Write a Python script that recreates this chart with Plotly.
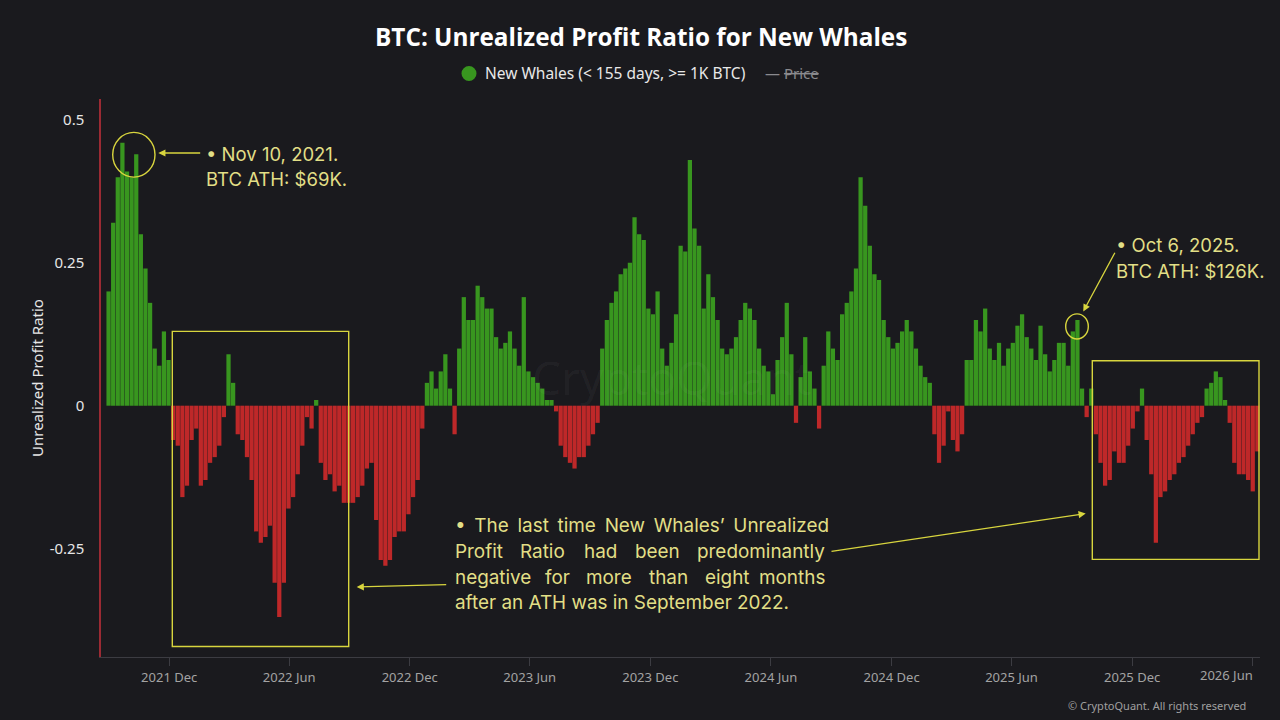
import plotly.graph_objects as go
import pandas as pd

# ---------------- data (weekly readings of the Unrealized Profit Ratio) ----------------
start_date = "2021-08-31"

ratio_2021 = [0.20, 0.32, 0.40, 0.46, 0.41, 0.40, 0.44, 0.30, 0.24, 0.18, 0.10, 0.07,
              0.13, 0.08, -0.06, -0.07, -0.16, -0.14]
ratio_2022 = [-0.06, -0.04, -0.14, -0.13, -0.10, -0.09, -0.07, -0.02, 0.09, 0.04, -0.05, -0.06,
              -0.09, -0.13, -0.22, -0.24, -0.23, -0.21, -0.31, -0.37, -0.31, -0.18, -0.16, -0.12,
              -0.07, -0.02, -0.04, 0.01, -0.10, -0.13, -0.12, -0.15, -0.14, -0.17, -0.17, -0.17,
              -0.16, -0.14, -0.11, -0.10, -0.20, -0.27, -0.28, -0.27, -0.23, -0.22, -0.22, -0.19,
              -0.16, -0.13, -0.04, 0.04]
ratio_2023 = [0.06, 0.03, 0.06, 0.09, 0.03, -0.05, 0.10, 0.19, 0.15, 0.15, 0.21, 0.19,
              0.17, 0.17, 0.12, 0.10, 0.11, 0.13, 0.10, 0.07, 0.19, 0.06, 0.05, 0.04,
              0.03, 0.01, 0.01, -0.01, -0.07, -0.09, -0.10, -0.11, -0.09, -0.09, -0.07, -0.05,
              -0.03, 0.10, 0.15, 0.18, 0.20, 0.23, 0.24, 0.25, 0.33, 0.30, 0.29, 0.17,
              0.16, 0.20, 0.10, 0.07]
ratio_2024 = [0.11, 0.16, 0.28, 0.27, 0.43, 0.31, 0.28, 0.17, 0.23, 0.19, 0.15, 0.10,
              0.09, 0.10, 0.12, 0.15, 0.18, 0.17, 0.15, 0.10, 0.07, 0.06, 0.02, 0.08,
              0.12, 0.18, 0.09, -0.03, 0.05, 0.12, 0.06, 0.03, -0.04, 0.07, 0.13, 0.10,
              0.08, 0.16, 0.18, 0.20, 0.24, 0.40, 0.35, 0.28, 0.23, 0.22, 0.15, 0.12,
              0.10, 0.11, 0.13, 0.15, 0.13]
ratio_2025 = [0.10, 0.07, 0.05, 0.04, -0.05, -0.10, -0.07, -0.01, -0.06, -0.08, -0.05, 0.08,
              0.08, 0.15, 0.13, 0.17, 0.10, 0.08, 0.11, 0.07, 0.10, 0.11, 0.14, 0.16,
              0.12, 0.10, 0.08, 0.14, 0.09, 0.06, 0.08, 0.11, 0.11, 0.07, 0.13, 0.15,
              0.03, -0.02, 0.03, -0.05, -0.10, -0.14, -0.13, -0.08, -0.10, -0.10, -0.07, -0.04,
              -0.01, 0.03, -0.06, -0.12]
ratio_2026 = [-0.24, -0.16, -0.15, -0.13, -0.12, -0.10, -0.09, -0.07, -0.05, -0.03, -0.02, 0.03,
              0.04, 0.06, 0.05, 0.01, -0.03, -0.10, -0.12, -0.12, -0.13, -0.15, -0.08]

tick_dates = ["2021-12-01", "2022-06-01", "2022-12-01", "2023-06-01", "2023-12-01",
              "2024-06-01", "2024-12-01", "2025-06-01", "2025-12-01", "2026-06-01"]
tick_labels = ["2021 Dec", "2022 Jun", "2022 Dec", "2023 Jun", "2023 Dec",
               "2024 Jun", "2024 Dec", "2025 Jun", "2025 Dec", "2026 Jun"]

values = ratio_2021 + ratio_2022 + ratio_2023 + ratio_2024 + ratio_2025 + ratio_2026
dates = pd.date_range(start_date, periods=len(values), freq="7D")

GREEN = "#38961f"
RED = "#be2829"
BG = "#1a1a1e"
YEL = "#d8d53e"
YTXT = "#e2df86"
colors = [GREEN if v >= 0 else RED for v in values]

# ---------------- layout helpers (pixel -> paper) ----------------
L, R, T, B = 101, 1260, 99, 657
def px(x):
    return (x - L) / (R - L)
def py(y):
    return (B - y) / (B - T)

fig = go.Figure()
fig.add_trace(go.Bar(x=dates, y=values, marker=dict(color=colors, line=dict(width=0)),
                     showlegend=False, hoverinfo="x+y"))

annotations = []
shapes = []

def text(x, y, s, size, color, anchor="left", family="Noto Sans", angle=0):
    annotations.append(dict(x=px(x), y=py(y), xref="paper", yref="paper", text=s,
                            showarrow=False, xanchor=anchor, yanchor="middle",
                            textangle=angle,
                            font=dict(size=size, color=color, family=family)))

def arrow(hx, hy, tx, ty):
    annotations.append(dict(x=px(hx), y=py(hy), xref="paper", yref="paper", text="",
                            showarrow=True, axref="pixel", ayref="pixel",
                            ax=tx - hx, ay=ty - hy, arrowhead=2, arrowsize=1.1,
                            arrowwidth=1.3, arrowcolor=YEL, standoff=0, startstandoff=0))

def ellipse(x0, y0, x1, y1):
    shapes.append(dict(type="circle", xref="paper", yref="paper",
                       x0=px(x0), x1=px(x1), y0=py(y1), y1=py(y0),
                       line=dict(color=YEL, width=1.4)))

def rect(x0, y0, x1, y1):
    shapes.append(dict(type="rect", xref="paper", yref="paper",
                       x0=px(x0), x1=px(x1), y0=py(y1), y1=py(y0),
                       line=dict(color=YEL, width=1.4)))

# watermark
text(530, 377, "CryptoQuant", 46, "rgba(255,255,255,0.045)", family="Noto Sans")

# title
text(641, 37, "<b>BTC: Unrealized Profit Ratio for New Whales</b>", 24.3, "#ffffff",
     anchor="center", family="Open Sans")

# custom legend
shapes.append(dict(type="circle", xref="paper", yref="paper",
                   x0=px(461.5), x1=px(476.5), y0=py(81), y1=py(66),
                   fillcolor=GREEN, line=dict(width=0)))
text(483, 73, "New Whales (&lt; 155 days, &gt;= 1K BTC)", 15.5, "#e8e8e8")
text(763, 73, "— <span style='text-decoration:line-through'>Price</span>", 15, "#8a8a8e")

# y-axis title
text(37, 378, "Unrealized Profit Ratio", 15, "#e6e6e6", anchor="center", angle=-90)

# last x tick label (right aligned as in the reference)
text(1255, 675, "2026 Jun", 13, "#a3a3a3", anchor="right")

# copyright
text(1248, 705, "© CryptoQuant. All rights reserved", 11, "#a0a0a0", anchor="right")

FONT_NOTE = "Inter"
NOTE_SIZE = 18.5
BODY_SIZE = 18.9
# annotation: Nov 10, 2021
ellipse(112.7, 132.4, 155.0, 177.1)
arrow(158.3, 153, 201.7, 153)
text(204, 154, "• Nov 10, 2021.", NOTE_SIZE, YTXT, family=FONT_NOTE)
text(204, 179, "BTC ATH: $69K.", NOTE_SIZE, YTXT, family=FONT_NOTE)

# annotation: Oct 6, 2025
ellipse(1065.7, 313.9, 1088.3, 339.0)
arrow(1083.3, 311.4, 1115.7, 251.2)
text(1114, 245, "• Oct 6, 2025.", NOTE_SIZE, YTXT, family=FONT_NOTE)
text(1114, 271, "BTC ATH: $126K.", NOTE_SIZE, YTXT, family=FONT_NOTE)

# boxes
rect(172.3, 331.4, 348.7, 646.5)
rect(1092.3, 360.7, 1259.0, 559.4)

# arrows from the text block
arrow(356.7, 587, 447.7, 584.5)
arrow(1085.7, 513.6, 830, 551.5)

# justified text block
TX_L, TX_R = 453, 827
SP = " \u2009"
line1 = SP.join(["•", "The", "last", "time", "New", "Whales’", "Unrealized"])
text(TX_L, 525, line1, BODY_SIZE, YTXT, family=FONT_NOTE)

def justified(words, y):
    first, middle, last = words[0], words[1:-1], words[-1]
    text(TX_L, y, first, BODY_SIZE, YTXT, anchor="left", family=FONT_NOTE)
    for w, cx in middle:
        text(cx, y, w, BODY_SIZE, YTXT, anchor="center", family=FONT_NOTE)
    text(TX_R, y, last, BODY_SIZE, YTXT, anchor="right", family=FONT_NOTE)

justified(["Profit", ("Ratio", 542.5), ("had", 600.0), ("been", 657.0), "predominantly"], 551.5)
justified(["negative", ("for", 557.6), ("more", 608.7), ("than", 668.3), ("eight", 727.9),
           "months"], 577)
text(TX_L, 602.5, "after an ATH was in September 2022.", BODY_SIZE, YTXT, family=FONT_NOTE)

# axis ranges in data units matching pixel geometry
x_left = pd.Timestamp("2021-12-01") - pd.Timedelta(days=(169.2 - L) / 0.6591)
x_right = pd.Timestamp("2026-06-01") + pd.Timedelta(days=(R - 1252.1) / 0.6591)
y_top = (405.7 - T) / 571.4
y_bot = -(B - 405.7) / 571.4

fig.update_layout(
    width=1280, height=720,
    margin=dict(l=L, r=1280 - R, t=T, b=720 - B),
    paper_bgcolor=BG, plot_bgcolor=BG,
    bargap=0.08,
    showlegend=False,
    annotations=annotations,
    shapes=shapes,
    xaxis=dict(type="date", range=[x_left, x_right],
               tickvals=tick_dates, ticktext=tick_labels[:-1] + [""],
               showgrid=False, zeroline=False,
               showline=True, linecolor="#3c3c42", linewidth=1,
               ticks="outside", ticklen=8, tickcolor="#3c3c42", tickwidth=1,
               tickfont=dict(family="Noto Sans", size=13, color="#a3a3a3")),
    yaxis=dict(range=[y_bot, y_top], tickvals=[0.5, 0.25, 0, -0.25],
               ticktext=["0.5", "0.25", "0", "-0.25"],
               showgrid=False, zeroline=False,
               showline=True, linecolor="#9b2a33", linewidth=1.5,
               ticks="", ticklabelstandoff=12,
               tickfont=dict(family="Noto Sans", size=15, color="#e6e6e6")),
)

fig.write_html("out.html")
